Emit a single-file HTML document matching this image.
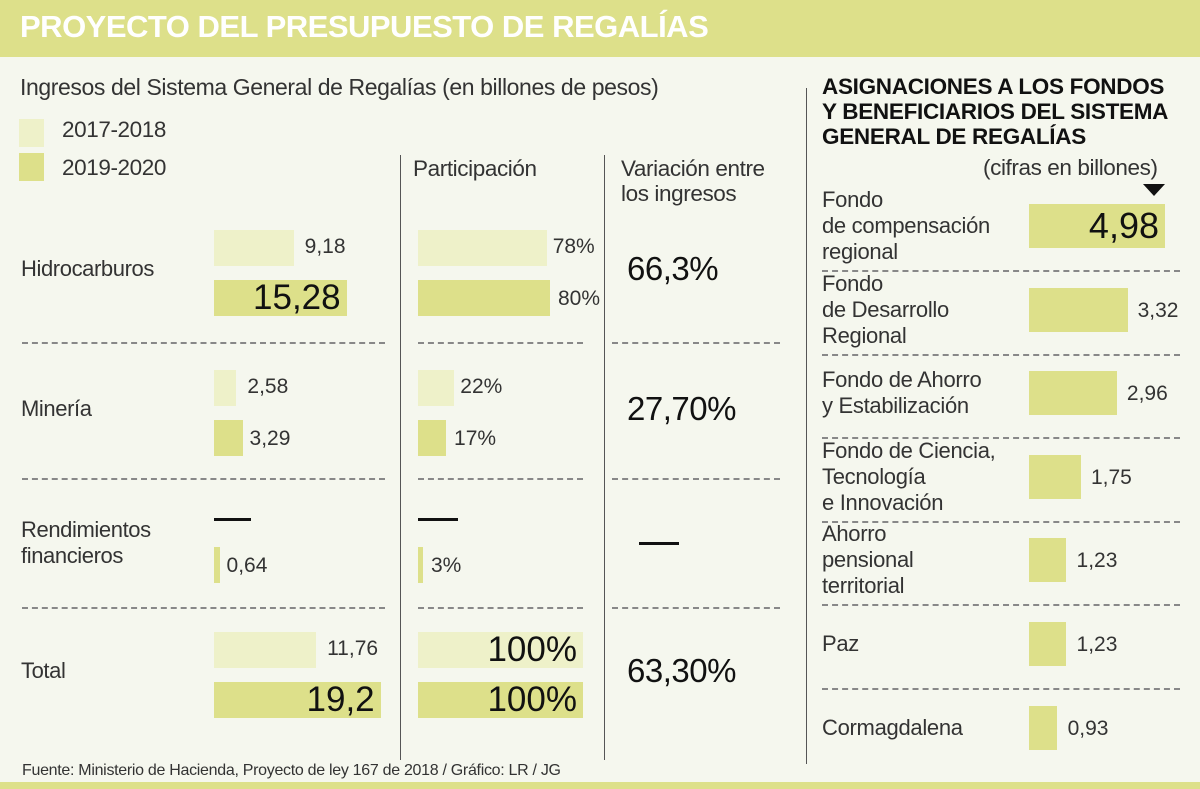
<!DOCTYPE html>
<html><head><meta charset="utf-8">
<style>
body{margin:0;width:1200px;height:789px;background:#f5f7ee;font-family:"Liberation Sans",sans-serif;color:#222;position:relative;overflow:hidden}
.a{position:absolute;white-space:nowrap}
.t{font-size:22.5px;color:#333;letter-spacing:-0.4px}
.vl{position:absolute;width:1px;background:#555}
</style></head><body>
<div class="a" style="left:0;top:0;width:1200px;height:57px;background:#dde08a"></div>
<div class="a" style="left:20px;top:9px;font-size:31px;font-weight:bold;color:#fff;letter-spacing:-0.5px">PROYECTO DEL PRESUPUESTO DE REGALÍAS</div>
<div class="a t" style="left:20px;top:74px;font-size:23px">Ingresos del Sistema General de Regalías (en billones de pesos)</div>
<div class="a" style="left:19px;top:119px;width:25px;height:28px;background:#eef1c9"></div>
<div class="a t" style="left:62px;top:117px">2017-2018</div>
<div class="a" style="left:19px;top:153px;width:25px;height:28px;background:#dde08a"></div>
<div class="a t" style="left:62px;top:155px">2019-2020</div>
<div class="a t" style="left:413px;top:156px">Participación</div>
<div class="a t" style="left:621px;top:156px;line-height:25px">Variación entre<br>los ingresos</div>
<div class="vl" style="left:400px;top:155px;height:605px"></div>
<div class="vl" style="left:604px;top:155px;height:605px"></div>
<div class="vl" style="left:806px;top:88px;height:676px"></div>
<div class="a" style="left:822px;top:74px;font-size:22.5px;font-weight:bold;line-height:25px;color:#111;letter-spacing:-0.3px">ASIGNACIONES A LOS FONDOS<br>Y BENEFICIARIOS DEL SISTEMA<br>GENERAL DE REGALÍAS</div>
<div class="a t" style="left:983px;top:155px">(cifras en billones)</div>
<div class="a" style="left:1143px;top:184px;width:0;height:0;border-left:11px solid transparent;border-right:11px solid transparent;border-top:12px solid #111"></div>
<div class="a" style="left:22px;top:762px;font-size:16px;color:#333;letter-spacing:-0.3px">Fuente: Ministerio de Hacienda, Proyecto de ley 167 de 2018 / Gráfico: LR / JG</div>
<div class="a" style="left:0;top:782px;width:1200px;height:7px;background:#dde08a"></div>
<div id="root"></div>
<script>
const categories=["Hidrocarburos","Minería","Rendimientos\nfinancieros","Total"];
const ingresos1718=[9.18,2.58,null,11.76];
const ingresos1920=[15.28,3.29,0.64,19.2];
const labels1718=["9,18","2,58","","11,76"];
const labels1920=["15,28","3,29","0,64","19,2"];
const part1718=[78,22,null,100];
const part1920=[80,17,3,100];
const variacion=["66,3%","27,70%","—","63,30%"];
const fondos=["Fondo\nde compensación\nregional","Fondo\nde Desarrollo\nRegional","Fondo de Ahorro\ny Estabilización","Fondo de Ciencia,\nTecnología\ne Innovación","Ahorro\npensional\nterritorial","Paz","Cormagdalena"];
const fondosVal=[4.98,3.32,2.96,1.75,1.23,1.23,0.93];
const fondosLbl=["4,98","3,32","2,96","1,75","1,23","1,23","0,93"];

const root=document.getElementById('root');
function mk(style,text){const d=document.createElement('div');d.className='a';d.style.cssText=style;if(text!==undefined)d.textContent=text;root.appendChild(d);return d;}
const xI=v=>v*8.68, xP=v=>v*1.65, xF=v=>Math.min(v*29.7,136);
const rowTop=[230,370,505,632];
const LIGHT='#eef1c9',DARK='#dde08a';
categories.forEach((c,i)=>{
  const y=rowTop[i];
  const lab=mk(`left:21px;top:${y+(i==2?12:26)}px;font-size:22px;color:#333;line-height:26px;white-space:pre;letter-spacing:-0.4px`,c);
  
  
  const y2=y+50;
  const big=i==0||i==3;
  if(ingresos1718[i]!=null){
    const w=xI(ingresos1718[i]);
    const b=mk(`left:214px;top:${y}px;width:${w}px;height:36px;background:${LIGHT}`);
    
    
    const t=mk(`left:${214+w+11}px;top:${y+5}px;font-size:21px;color:#333`,labels1718[i]);
    
    
  } else {
    const d=mk(`left:214px;top:${y+13}px;width:37px;height:3px;background:#111`);
    
    
  }
  const w2=xI(ingresos1920[i]);
  const yb=i==2?547:y2;
  const b2=mk(`left:214px;top:${yb}px;width:${w2}px;height:36px;background:${DARK}`);
  
  
  if(big){
    const t=mk(`left:214px;width:${w2-6}px;text-align:right;top:${yb-2}px;font-size:35px;color:#111`,labels1920[i]);
    
    
  } else {
    const t=mk(`left:${214+w2+7}px;top:${yb+7}px;font-size:21px;color:#333`,labels1920[i]);
    
    
  }
  if(part1718[i]!=null){
    const w=xP(part1718[i]);
    const b=mk(`left:418px;top:${y}px;width:${w}px;height:36px;background:${LIGHT}`);
    
    
    const t=big&&part1718[i]==100?mk(`left:418px;width:${w-6}px;text-align:right;top:${y-2}px;font-size:35px;color:#111`,part1718[i]+'%'):mk(`left:${418+w+6}px;top:${y+5}px;font-size:21px;color:#333`,part1718[i]+'%');
    
    
  } else {
    const d=mk(`left:418px;top:${y+13}px;width:40px;height:3px;background:#111`);
    
    
  }
  const wp=xP(part1920[i]);
  const bp=mk(`left:418px;top:${yb}px;width:${wp}px;height:36px;background:${DARK}`);
  
  
  const tp=big&&part1920[i]==100?mk(`left:418px;width:${wp-6}px;text-align:right;top:${yb-2}px;font-size:35px;color:#111`,part1920[i]+'%'):mk(`left:${418+wp+8}px;top:${yb+7}px;font-size:21px;color:#333`,part1920[i]+'%');
  
  
  const isDash=variacion[i]=='—';
  const v=isDash?mk(`left:639px;top:542px;width:40px;height:3px;background:#111`):mk(`left:627px;top:${y+20}px;font-size:33px;color:#111;letter-spacing:-0.5px`,variacion[i]);
  
  
  if(i<3){
    const ly=[342,478,607][i];
    [[22,385],[418,583],[612,780]].forEach(([a,b])=>{
      const d=mk(`left:${a}px;top:${ly}px;width:${b-a}px;height:0;border-top:2px dashed #888`);
      
      
    });
  }
});
const fTop=[204,288,371,455,538,622,706];
fondos.forEach((f,i)=>{
  const y=fTop[i];
  const n=f.split('\n').length;
  const lab=mk(`left:822px;top:${y+22-n*13}px;font-size:22px;color:#333;line-height:26px;white-space:pre;letter-spacing:-0.3px`,f);
  
  
  const w=xF(fondosVal[i]);
  const b=mk(`left:1029px;top:${y}px;width:${w}px;height:44px;background:${DARK}`);
  
  
  const t=i==0?mk(`left:1029px;width:${w-6}px;text-align:right;top:${y+1}px;font-size:36px;color:#111`,fondosLbl[i]):mk(`left:${1029+w+(w<40?11:10)}px;top:${y+11}px;font-size:21px;color:#333`,fondosLbl[i]);
  
  
  if(i<6){
    const d=mk(`left:822px;top:${[270,354,437,521,604,688][i]}px;width:358px;height:0;border-top:2px dashed #888`);
    
    
  }
});
</script>
</body></html>
